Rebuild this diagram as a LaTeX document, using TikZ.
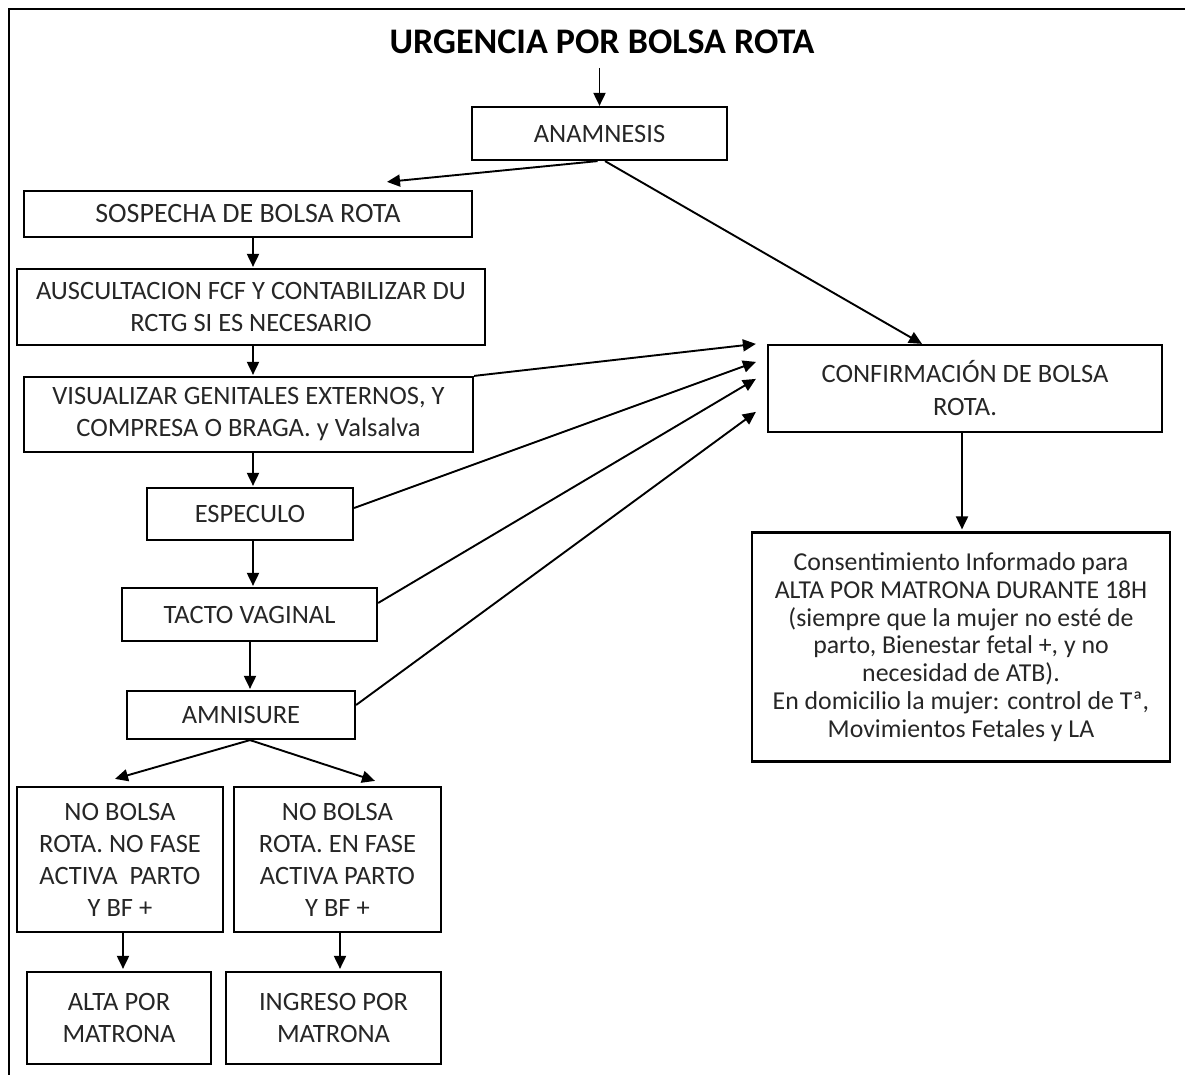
\documentclass[tikz,border=0pt]{standalone}
\usepackage{fontspec}
\setmainfont{Carlito}
\usetikzlibrary{arrows.meta}
\begin{document}
\begin{tikzpicture}[x=1pt,y=-1pt,
  bx/.style={draw, line width=2.2pt, align=center, inner sep=0pt, text=black!85, font=\fontsize{26.5}{32}\selectfont},
  arr/.style={line width=1.9pt, -{Triangle[length=13pt,width=12pt]}},
  frame/.style={line width=2.4pt}]
\useasboundingbox (0,0) rectangle (1185,1075);
\draw[frame] (9,1075) -- (9,9) -- (1185,9);

\node[font=\bfseries\fontsize{36}{40}\selectfont] (title) at (602,42) {URGENCIA POR BOLSA ROTA};

\node[bx, minimum width=255pt, minimum height=53pt] (anam) at (599.5,133.5) {ANAMNESIS};
\node[bx, minimum width=448pt, minimum height=46pt, font=\fontsize{28}{32}\selectfont] (sosp) at (248,214) {SOSPECHA DE BOLSA ROTA};
\node[bx, minimum width=468pt, minimum height=76pt] (ausc) at (251,307) {AUSCULTACION FCF Y CONTABILIZAR DU\\RCTG SI ES NECESARIO};
\node[bx, minimum width=449pt, minimum height=75pt] (visu) at (248.5,414.5) {VISUALIZAR GENITALES EXTERNOS, Y\\COMPRESA O BRAGA. y Valsalva};
\node[bx, minimum width=206pt, minimum height=52pt] (espe) at (250,514) {ESPECULO};
\node[bx, minimum width=255pt, minimum height=53pt] (tacto) at (249.5,614.5) {TACTO VAGINAL};
\node[bx, minimum width=228pt, minimum height=48pt] (amni) at (241,715) {AMNISURE};
\node[bx, minimum width=206pt, minimum height=145pt] (nob1) at (120,859.5) {NO BOLSA\\ROTA. NO FASE\\ACTIVA\ \ PARTO\\Y BF +};
\node[bx, minimum width=207pt, minimum height=145pt] (nob2) at (337.5,859.5) {NO BOLSA\\ROTA. EN FASE\\ACTIVA PARTO\\Y BF +};
\node[bx, minimum width=184pt, minimum height=92pt] (alta) at (119,1018) {ALTA POR\\MATRONA};
\node[bx, minimum width=215pt, minimum height=92pt] (ingr) at (333.5,1018) {INGRESO POR\\MATRONA};
\node[bx, minimum width=394pt, minimum height=87pt, font=\fontsize{26.5}{33}\selectfont] (conf) at (965,388.5) {CONFIRMACIÓN DE BOLSA\\ROTA.};
\node[bx, minimum width=418pt, minimum height=229pt, font=\fontsize{25.8}{27.8}\selectfont] (cons) at (961,647) {Consentimiento Informado para\\ALTA POR MATRONA DURANTE 18H\\(siempre que la mujer no esté de\\parto, Bienestar fetal +, y no\\necesidad de ATB).\\En domicilio la mujer: control de Tª,\\Movimientos Fetales y LA};

\draw[arr] ([yshift=-26pt]title.center -| anam.north) -- (anam.north);
\draw[arr] ([xshift=-2pt]anam.south) -- ([xshift=139pt,yshift=8pt]sosp.north);
\draw[arr] ([xshift=5.5pt]anam.south) -- ([xshift=-43pt]conf.north);
\draw[arr] ([xshift=5pt]sosp.south) -- ([xshift=5pt,yshift=1pt]sosp.south |- ausc.north);
\draw[arr] ([xshift=2pt]ausc.south) -- ([xshift=2pt,yshift=1pt]ausc.south |- visu.north);
\draw[arr] ([xshift=4.5pt]visu.south) -- ([xshift=4.5pt,yshift=1pt]visu.south |- espe.north);
\draw[arr] ([xshift=3pt]espe.south) -- ([xshift=3pt,yshift=1pt]espe.south |- tacto.north);
\draw[arr] ([xshift=0.5pt]tacto.south) -- ([xshift=0.5pt,yshift=1pt]tacto.south |- amni.north);
\draw[arr] ([xshift=9pt]amni.south) -- ([xshift=-5pt,yshift=7pt]nob1.north);
\draw[arr] ([xshift=9pt]amni.south) -- ([xshift=37.5pt,yshift=5pt]nob2.north);
\draw[arr] ([xshift=3pt]nob1.south) -- ([xshift=3pt,yshift=2pt]nob1.south |- alta.north);
\draw[arr] ([xshift=2.5pt]nob2.south) -- ([xshift=2.5pt,yshift=2pt]nob2.south |- ingr.north);
\draw[arr] ([xshift=-3pt]conf.south) -- ([xshift=-3pt,yshift=2pt]conf.south |- cons.north);

\draw[arr] (visu.north east) -- ([xshift=-11pt]conf.north west);
\draw[arr] ([yshift=6pt]espe.east) -- ([xshift=-11pt,yshift=-18pt]conf.north west);
\draw[arr] ([yshift=11.5pt]tacto.east) -- ([xshift=-11pt,yshift=-35pt]conf.north west);
\draw[arr] ([yshift=10pt]amni.east) -- ([xshift=-11pt,yshift=-68pt]conf.north west);
\end{tikzpicture}
\end{document}
